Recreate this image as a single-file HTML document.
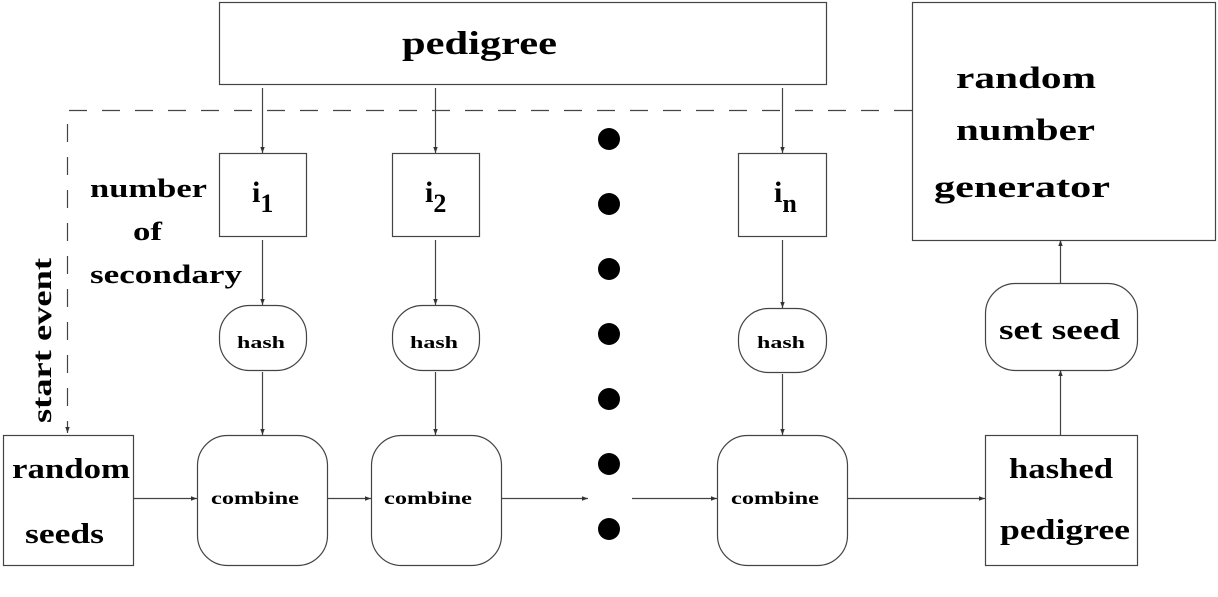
<!DOCTYPE html>
<html><head><meta charset="utf-8"><style>
html,body{margin:0;padding:0;background:#fff;}
svg{display:block;}
text{font-family:"Liberation Serif",serif;font-weight:bold;fill:#000;}
</style></head><body>
<svg width="1218" height="597" viewBox="0 0 1218 597" xmlns="http://www.w3.org/2000/svg">
<defs>
<marker id="a" markerWidth="6" markerHeight="6" refX="6" refY="3" orient="auto" markerUnits="userSpaceOnUse">
<path d="M0,0.8 L6,3 L0,5.2 z" fill="#333"/></marker>
</defs>
<g fill="none" stroke="#444" stroke-width="1.2">
<rect x="219.5" y="2.5" width="607" height="82"/>
<rect x="912.5" y="2.5" width="303" height="238"/>
<rect x="219.5" y="153.5" width="87" height="83"/>
<rect x="392.5" y="153.5" width="87" height="83"/>
<rect x="738.5" y="153.5" width="88" height="83"/>
<rect x="219.5" y="305.5" width="87" height="65" rx="30" ry="30"/>
<rect x="392.5" y="305.5" width="87" height="65" rx="30" ry="30"/>
<rect x="738.5" y="308.5" width="88" height="64" rx="30" ry="30"/>
<rect x="197.5" y="435.5" width="130" height="130" rx="30" ry="30"/>
<rect x="371.5" y="435.5" width="130" height="130" rx="30" ry="30"/>
<rect x="717.5" y="435.5" width="130" height="130" rx="30" ry="30"/>
<rect x="3.5" y="435.5" width="130" height="130"/>
<rect x="985.5" y="435.5" width="152" height="130"/>
<rect x="985.5" y="283.5" width="152" height="87" rx="30" ry="30"/>
<path d="M912,110.5 H67.5 V433" stroke-dasharray="18,15" marker-end="url(#a)"/>
<line x1="262.5" y1="88" x2="262.5" y2="153" marker-end="url(#a)"/>
<line x1="435.5" y1="88" x2="435.5" y2="153" marker-end="url(#a)"/>
<line x1="782.5" y1="88" x2="782.5" y2="153" marker-end="url(#a)"/>
<line x1="262.5" y1="240" x2="262.5" y2="305" marker-end="url(#a)"/>
<line x1="435.5" y1="240" x2="435.5" y2="305" marker-end="url(#a)"/>
<line x1="782.5" y1="240" x2="782.5" y2="308" marker-end="url(#a)"/>
<line x1="262.5" y1="372" x2="262.5" y2="435" marker-end="url(#a)"/>
<line x1="435.5" y1="372" x2="435.5" y2="435" marker-end="url(#a)"/>
<line x1="782.5" y1="374" x2="782.5" y2="435" marker-end="url(#a)"/>
<line x1="133" y1="498.5" x2="197" y2="498.5" marker-end="url(#a)"/>
<line x1="327" y1="498.5" x2="371" y2="498.5" marker-end="url(#a)"/>
<line x1="501" y1="498.5" x2="588" y2="498.5" marker-end="url(#a)"/>
<line x1="632" y1="498.5" x2="717" y2="498.5" marker-end="url(#a)"/>
<line x1="847" y1="498.5" x2="985" y2="498.5" marker-end="url(#a)"/>
<line x1="1060.5" y1="435" x2="1060.5" y2="370" marker-end="url(#a)"/>
<line x1="1060.5" y1="283" x2="1060.5" y2="240" marker-end="url(#a)"/>
</g>
<g fill="#000">
<circle cx="609" cy="139" r="11"/><circle cx="609" cy="204" r="11"/><circle cx="609" cy="269" r="11"/>
<circle cx="609" cy="334" r="11"/><circle cx="609" cy="399" r="11"/><circle cx="609" cy="464" r="11"/>
<circle cx="609" cy="529" r="11"/>
</g>
<g lengthAdjust="spacingAndGlyphs">
<text x="402" y="54" font-size="33" textLength="155" lengthAdjust="spacingAndGlyphs">pedigree</text>
<text x="956" y="88" font-size="31" textLength="140" lengthAdjust="spacingAndGlyphs">random</text>
<text x="956" y="140" font-size="31" textLength="139" lengthAdjust="spacingAndGlyphs">number</text>
<text x="934" y="197" font-size="31" textLength="176" lengthAdjust="spacingAndGlyphs">generator</text>
<text x="90" y="197" font-size="26" textLength="117" lengthAdjust="spacingAndGlyphs">number</text>
<text x="133" y="240" font-size="26" textLength="29" lengthAdjust="spacingAndGlyphs">of</text>
<text x="90" y="283" font-size="26" textLength="152" lengthAdjust="spacingAndGlyphs">secondary</text>
<text x="252" y="202" font-size="30">i<tspan font-size="26" dy="10">1</tspan></text>
<text x="425" y="202" font-size="30">i<tspan font-size="26" dy="10">2</tspan></text>
<text x="774" y="202" font-size="30">i<tspan font-size="26" dy="10">n</tspan></text>
<text x="237" y="348" font-size="17" textLength="48" lengthAdjust="spacingAndGlyphs">hash</text>
<text x="410" y="348" font-size="17" textLength="48" lengthAdjust="spacingAndGlyphs">hash</text>
<text x="757" y="348" font-size="17" textLength="48" lengthAdjust="spacingAndGlyphs">hash</text>
<text x="211" y="504" font-size="18" textLength="88" lengthAdjust="spacingAndGlyphs">combine</text>
<text x="384" y="504" font-size="18" textLength="88" lengthAdjust="spacingAndGlyphs">combine</text>
<text x="731" y="504" font-size="18" textLength="88" lengthAdjust="spacingAndGlyphs">combine</text>
<text x="12" y="478" font-size="28" textLength="118" lengthAdjust="spacingAndGlyphs">random</text>
<text x="25" y="543" font-size="28" textLength="79" lengthAdjust="spacingAndGlyphs">seeds</text>
<text x="1009" y="478" font-size="28" textLength="104" lengthAdjust="spacingAndGlyphs">hashed</text>
<text x="1000" y="539" font-size="28" textLength="130" lengthAdjust="spacingAndGlyphs">pedigree</text>
<text x="999" y="339" font-size="28" textLength="121" lengthAdjust="spacingAndGlyphs">set seed</text>
<text transform="translate(51,423) rotate(-90)" font-size="27" textLength="165" lengthAdjust="spacingAndGlyphs">start event</text>
</g>
</svg>
</body></html>
